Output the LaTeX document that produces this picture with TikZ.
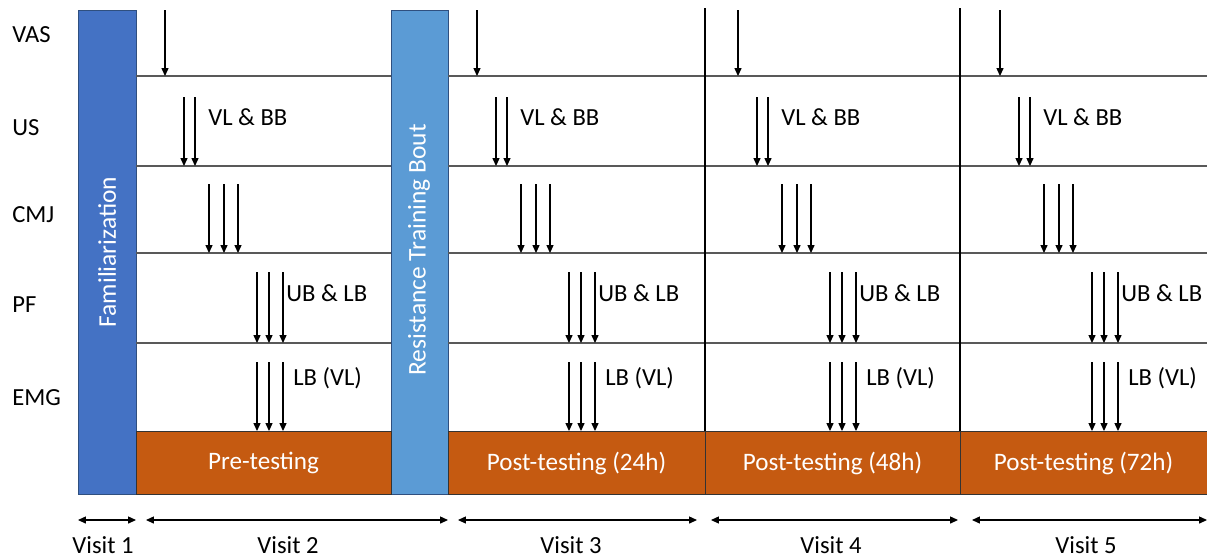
\documentclass[tikz,border=0pt]{standalone}
\usepackage{fontspec}
\setmainfont{Carlito}
\usetikzlibrary{arrows.meta}
\definecolor{famblue}{HTML}{4472C4}
\definecolor{rtblue}{HTML}{5B9BD5}
\definecolor{barline}{HTML}{2F4F7F}
\definecolor{testorange}{HTML}{C55A11}
\definecolor{gridgray}{HTML}{595959}

\begin{document}
\begin{tikzpicture}[x=0.02cm, y=-0.02cm, font=\fontsize{14}{16}\selectfont,
		gridline/.style={gridgray, line width=0.8pt},
		probe/.style={-{Triangle[length=4.5pt, width=4pt]}, line width=0.6pt},
		span/.style={{Triangle[length=4.5pt, width=4pt]}-{Triangle[length=4.5pt, width=4pt]}, line width=0.6pt},
		lbl/.style={anchor=west, inner sep=0pt}]
	\useasboundingbox (0,0) rectangle (1207,559);
	% phase bars
	\draw[barline, fill=famblue] (78,10) rectangle (136,494);
	\draw[barline, fill=rtblue] (391,10) rectangle (448,494);
	\node[white, rotate=90, font=\fontsize{14.5}{16}\selectfont] (fam) at (107,252) {Familiarization};
	\node[white, rotate=90, font=\fontsize{14.5}{16}\selectfont] (rtb) at (419,250) {Resistance Training Bout};
	% testing boxes
	\foreach \a/\b/\t [count=\i] in {136/391/Pre-testing, 448/705/Post-testing (24h), 705/960/Post-testing (48h), 960/1207/Post-testing (72h)} {
		\draw[black!80, fill=testorange] (\a,431) rectangle (\b,494);
		\node[white, font=\fontsize{14.3}{16}\selectfont] (test\i) at ({(\a+\b)/2},463) {\t};
	}
	% grid
	\foreach \y in {76,166,253,343} {
		\draw[gridline] (136,\y) -- (391,\y);
		\draw[gridline] (448,\y) -- (1207,\y);
	}
	\draw[line width=0.6pt] (705,8) -- (705,431);
	\draw[line width=0.6pt] (960,8) -- (960,431);
	% rows
	\node[lbl] (vas) at (12,35) {VAS};
	\node[lbl] (us) at (12,128) {US};
	\node[lbl] (cmj) at (12,215) {CMJ};
	\node[lbl] (pf) at (12,305) {PF};
	\node[lbl] (emg) at (12,398) {EMG};
	% measurements per visit
	\foreach \v [count=\i] in {165,477,738,1000} {
		\draw[probe] (\v,10) -- (\v,76);
		\foreach \d in {19,30}
			\draw[probe] (\v+\d,97) -- (\v+\d,166);
		\foreach \d in {44,59,73}
			\draw[probe] (\v+\d,184) -- (\v+\d,253);
		\foreach \d in {92,104,118} {
			\draw[probe] (\v+\d,272) -- (\v+\d,343);
			\draw[probe] (\v+\d,362) -- (\v+\d,431);
		}
		\node[lbl] (usl\i) at (\v+43,117) {VL \& BB};
		\node[lbl] (pfl\i) at (\v+121,293) {UB \& LB};
		\node[lbl] (emgl\i) at (\v+128,378) {LB (VL)};
	}
	% visits
	\foreach \a/\b/\c [count=\i] in {78/136/103, 146/448/288, 458/697/571, 711/958/831, 972/1207/1086} {
		\coordinate (vs\i) at (\a,520);
		\coordinate (ve\i) at (\b,520);
		\draw[span] (vs\i) -- (ve\i);
		\node (visit\i) at (\c,545) {Visit \i};
	}
\end{tikzpicture}
\end{document}
